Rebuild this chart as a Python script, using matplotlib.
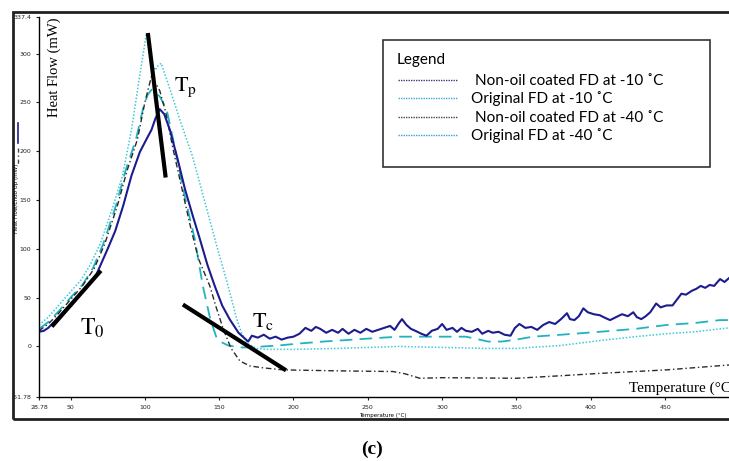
import matplotlib
matplotlib.use("Agg")
from matplotlib import pyplot as plt
from matplotlib.patches import Rectangle
from matplotlib.lines import Line2D

plt.rcParams["mathtext.fontset"] = "stix"

# solid navy trace
navy_t = [28.78, 32, 35, 42, 50, 58, 67.5, 75, 80, 85.4, 91, 96.6, 101, 104.5, 107, 110,
          113, 116.8, 122, 127, 132, 137, 142, 147, 152, 157, 163, 169.5,
          172, 176, 180, 184, 188, 192, 196, 200, 204, 208, 212, 215, 218, 222, 226, 230,
          233, 237, 241, 245, 249, 253, 257, 261, 265, 268, 271, 273, 276, 279, 282, 286,
          289.5, 293, 297, 300, 303, 307, 310, 313, 316, 320, 324, 327, 331, 334, 338, 342,
          346, 349, 352, 356, 360, 364, 368, 372, 376, 380, 384, 386, 389, 392, 395, 398,
          402, 406, 410, 413, 417, 421, 425, 428.6, 431, 434, 437, 440, 444, 447, 451, 455,
          458, 461, 464, 468, 471, 474, 477, 480, 483, 487, 490, 493]
navy_hf = [15, 16, 19, 30, 43, 56, 74, 100, 118, 144, 175, 199, 212, 222, 233, 243,
           238, 222, 192, 161, 135, 110, 84, 62, 42, 28, 14, 5,
           11, 9, 12, 8, 10, 7, 9, 10, 13, 19, 16, 20, 18, 14, 17, 14,
           18, 13, 17, 14, 18, 15, 17, 19, 21, 17, 24, 28, 22, 18, 16, 13,
           11, 16, 18, 23, 17, 19, 15, 19, 16, 15, 18, 13, 16, 14, 15, 12,
           11, 19, 23, 19, 20, 17, 22, 25, 23, 28, 34, 28, 27, 31, 39, 35,
           33, 32, 29, 27, 30, 33, 31, 35, 30, 28, 31, 35, 44, 40, 42, 42,
           48, 54, 53, 57, 59, 62, 60, 63, 62, 69, 66, 70]

# long dashed cyan trace
dash_t = [28.78, 35, 42, 50, 58, 65, 72, 80.5, 87, 94, 99, 102, 104.5, 110, 114.6, 120,
          125.8, 130, 133.6, 139, 144, 148, 152, 156, 164, 170, 180, 190, 204, 220, 240,
          260, 271, 290, 316, 325, 331, 340, 350, 361, 380, 406, 430, 451, 470, 487, 493]
dash_hf = [18, 25, 36, 50, 63, 80, 105, 144, 180, 212, 245, 258, 263, 256, 243, 205,
           161, 133, 110, 62, 28, 10, 4, 1, -1, -1, 0, 1, 3, 5, 7,
           9, 10, 10, 10, 7, 5, 5, 7, 10, 12, 15, 18, 22, 24, 27, 27]

# dotted cyan trace
dot_t = [28.78, 35, 42, 50, 57, 63, 70, 78.7, 85, 91, 96, 101, 103, 105.6, 107, 109, 111,
         117, 124, 132, 140, 148, 156, 161.7, 165, 169, 175, 182, 200, 230, 271, 300, 330,
         350, 380, 406, 430, 451, 470, 487, 493]
dot_hf = [22, 30, 42, 56, 68, 83, 105, 144, 175, 222, 272, 320, 304, 287, 283, 288, 290,
          263, 230, 195, 150, 105, 62, 28.6, 14, 3, -2, -3, -3, -2, 0, -1, -2,
          -2, 1, 6, 10, 13, 15, 18, 19]

# dash-dot black trace
dd_t = [28.78, 35, 42, 50, 58, 66, 73, 81.5, 88, 95, 100, 104.5, 110, 114, 119, 124, 130,
        136, 143.7, 148, 152.7, 158, 164, 170.7, 180, 193, 230, 267, 275, 285, 300, 350,
        380, 406, 451, 487, 493]
dd_hf = [16, 23, 34, 48, 62, 80, 105, 144, 180, 212, 250, 277, 262, 240, 202, 168, 127,
         90, 62, 40, 18, -2, -15, -20, -22, -24, -25, -25.7, -28, -32.6, -32, -32.6,
         -30, -27.6, -24, -19.7, -19]

# tangent construction lines
t0_x, t0_y = [37.4, 70.4], [20.4, 77.6]
tp_x, tp_y = [102, 114], [321, 173]
tc_x, tc_y = [125.6, 195], [42.9, -24.5]

x_ticks = [28.78, 50, 100, 150, 200, 250, 300, 350, 400, 450]
y_ticks = [-51.78, 0, 50, 100, 150, 200, 250, 300, 337.4]

legend_labels = ["Non-oil coated FD at -10 ˚C", "Original FD at -10 ˚C",
                 "Non-oil coated FD at -40 ˚C", "Original FD at -40 ˚C"]
legend_colors = ["#3a3a80", "#3aa8e0", "#444444", "#3a9ee0"]

W, H = 729, 461
fig = plt.figure(figsize=(W / 100, H / 100), dpi=100)
ax = fig.add_axes([39 / W, 64 / H, 690 / W, 380 / H])

ax.plot(dot_t, dot_hf, color="#3cc9d8", lw=1.1, ls=(0, (1, 1.2)))
ax.plot(dash_t, dash_hf, color="#22b3c0", lw=1.3, ls=(0, (7, 4)))
ax.plot(dd_t, dd_hf, color="#2a2a2a", lw=1.0, ls=(0, (4, 2, 1, 2)))
ax.plot(navy_t, navy_hf, color="#1c1c8f", lw=1.5)

for lx, ly in [(t0_x, t0_y), (tp_x, tp_y), (tc_x, tc_y)]:
    ax.plot(lx, ly, color="black", lw=3, solid_capstyle="butt")

ax.set_xlim(28.78, 493)
ax.set_ylim(-51.78, 337.4)
ax.set_xticks(x_ticks)
ax.set_xticklabels(["28.78"] + [str(int(v)) for v in x_ticks[1:]])
ax.set_yticks(y_ticks)
ax.set_yticklabels(["-51.78"] + [str(int(v)) for v in y_ticks[1:-1]] + ["337.4"])
ax.tick_params(labelsize=4.5, length=2.5, width=0.8, direction="out", pad=3, colors="#222")
for s in ["top", "right"]:
    ax.spines[s].set_visible(False)
for s in ["left", "bottom"]:
    ax.spines[s].set_linewidth(1.0)

# outer frame of the screenshot
fig.patches.append(Rectangle((13 / W, (H - 419) / H), 1.0, 407 / H, transform=fig.transFigure,
                             fill=False, lw=2, ec="#222222"))

# legend box drawn by hand
fig.patches.append(Rectangle((383 / W, (H - 167) / H), 327 / W, 127 / H, transform=fig.transFigure,
                             fill=False, lw=1.2, ec="#333333"))
fig.text(397 / W, (H - 60) / H, "Legend", family=["Lato", "DejaVu Sans"], fontsize=11, va="center")
rows_y = [81, 99, 117.5, 136]
rows_x = [475, 471, 475, 471]
for lab, col, ry, rx in zip(legend_labels, legend_colors, rows_y, rows_x):
    fig.lines.append(Line2D([398 / W, 458 / W], [(H - ry + 0.5) / H] * 2, transform=fig.transFigure,
                            color=col, lw=1.0, ls=(0, (1, 0.8))))
    fig.text(rx / W, (H - ry) / H, lab, family=["Lato", "DejaVu Sans"], fontsize=11, va="center")

serif = ["Liberation Serif", "DejaVu Serif"]
fig.text(54 / W, (H - 67) / H, "Heat Flow (mW)", family=serif, fontsize=10.5, rotation=90,
         ha="center", va="center")
fig.text(80 / W, (H - 328) / H, r"$\mathrm{T_0}$", fontsize=17, ha="left", va="center")
fig.text(174 / W, (H - 87) / H, r"$\mathrm{T_p}$", fontsize=16, ha="left", va="center")
fig.text(252 / W, (H - 321) / H, r"$\mathrm{T_c}$", fontsize=16, ha="left", va="center")
fig.text(629 / W, (H - 388) / H, "Temperature (°C)", family=serif, fontsize=11, ha="left", va="center")
fig.text(372 / W, (H - 449) / H, "(c)", family=serif, fontsize=14, weight="bold", ha="center", va="center")

# tiny labels from the instrument software
fig.text(17 / W, (H - 198) / H, "Heat Flow/Endo Up (mW)", fontsize=4, rotation=90, ha="center", va="center")
fig.text(383 / W, (H - 415) / H, "Temperature (°C)", fontsize=4, ha="center", va="center")
fig.lines.append(Line2D([18 / W] * 2, [(H - 123) / H, (H - 143) / H], transform=fig.transFigure,
                        color="#1c1c8f", lw=1.2))
fig.lines.append(Line2D([18 / W] * 2, [(H - 148) / H, (H - 166) / H], transform=fig.transFigure,
                        color="#444444", lw=1.0, ls=(0, (3, 2, 1, 2))))

fig.savefig("out.png", dpi=100)
